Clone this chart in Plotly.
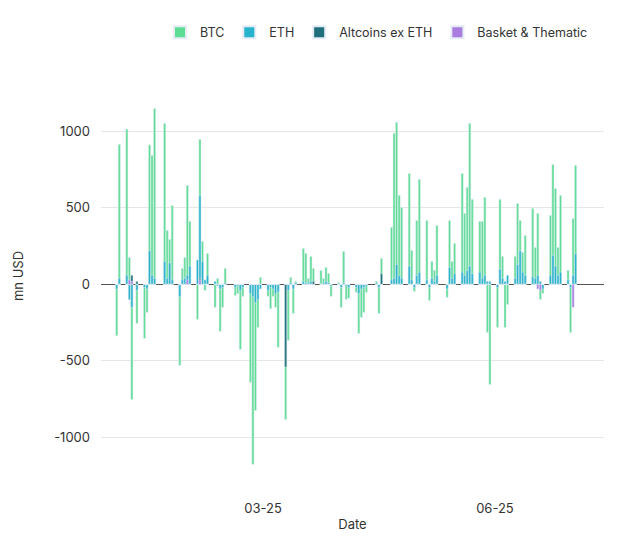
import plotly.graph_objects as go

dates = [
    "2025-01-02", "2025-01-03", "2025-01-06", "2025-01-07", "2025-01-08", "2025-01-10",
    "2025-01-13", "2025-01-14", "2025-01-15", "2025-01-16", "2025-01-17",
    "2025-01-21", "2025-01-22", "2025-01-23", "2025-01-24",
    "2025-01-27", "2025-01-28", "2025-01-29", "2025-01-30", "2025-01-31",
    "2025-02-03", "2025-02-04", "2025-02-05", "2025-02-06", "2025-02-07",
    "2025-02-10", "2025-02-11", "2025-02-12", "2025-02-13", "2025-02-14",
    "2025-02-18", "2025-02-19", "2025-02-20", "2025-02-21",
    "2025-02-24", "2025-02-25", "2025-02-26", "2025-02-27", "2025-02-28",
    "2025-03-03", "2025-03-04", "2025-03-05", "2025-03-06", "2025-03-07",
    "2025-03-10", "2025-03-11", "2025-03-12", "2025-03-13", "2025-03-14",
    "2025-03-17", "2025-03-18", "2025-03-19", "2025-03-20", "2025-03-21",
    "2025-03-24", "2025-03-25", "2025-03-26", "2025-03-27", "2025-03-28",
    "2025-03-31", "2025-04-01", "2025-04-02", "2025-04-03", "2025-04-04",
    "2025-04-07", "2025-04-08", "2025-04-09", "2025-04-10", "2025-04-11",
    "2025-04-15", "2025-04-16", "2025-04-17",
    "2025-04-21", "2025-04-22", "2025-04-23", "2025-04-24", "2025-04-25",
    "2025-04-28", "2025-04-29", "2025-04-30", "2025-05-01", "2025-05-02",
    "2025-05-05", "2025-05-06", "2025-05-07", "2025-05-08", "2025-05-09",
    "2025-05-13", "2025-05-14", "2025-05-15", "2025-05-16",
    "2025-05-19", "2025-05-20", "2025-05-21", "2025-05-22", "2025-05-23",
    "2025-05-26", "2025-05-27", "2025-05-28", "2025-05-29", "2025-05-30",
    "2025-06-02", "2025-06-03", "2025-06-04", "2025-06-05", "2025-06-06",
    "2025-06-09", "2025-06-10", "2025-06-11", "2025-06-12", "2025-06-13",
    "2025-06-16", "2025-06-17", "2025-06-18", "2025-06-19", "2025-06-20",
    "2025-06-23", "2025-06-24", "2025-06-25", "2025-06-26", "2025-06-27",
    "2025-06-30", "2025-07-01", "2025-07-02", "2025-07-03",
]

btc = [
    -335, 915, 1015, 176, -752, -255,
    -353, -183, 912, 843, 1150,
    1052, 353, 294, 516,
    -529, 105, 176, 647, 412,
    -229, 948, 281, -39, 203,
    -150, 39, -307, -150, 105,
    -72, -60, -425, -78,
    -640, -1176, -824, -281, 46,
    -78, -158, -78, -150, -411,
    -883, -366, 46, -190, 20,
    235, 203, 39, 183, 105,
    92, 39, 111, 72, -78,
    13, -150, 216, -98, -90,
    -52, -320, -216, -183, -52,
    20, -190, 170,
    373, 987, 1059, 582, 503,
    725, 222, -46, 418, 686,
    418, -105, 150, 92, 385,
    -85, 418, 150, 268,
    725, 464, 634, 1052, 556,
    412, 412, 569, -314, -654,
    -281, 556, 183, -281, -131,
    183, 529, 418, 209, 320,
    497, 242, 464, -98, -59,
    451, 784, 627, 242, 582,
    92, -314, 431, 778,
]

eth = [
    -30, 40, 60, -100, -150, -40,
    -20, -30, 220, 60, 40,
    150, 40, 140, 30,
    -80, 30, 40, 60, 120,
    160, 580, 150, 30, 60,
    20, -10, -30, -20, 10,
    -20, -10, -40, -20,
    -60, -80, -120, -100, -30,
    -40, -20, -30, -60, -50,
    -40, -40, 10, -30, 10,
    20, 10, 10, 20, 10,
    5, 10, 20, 10, -10,
    5, -20, 10, -10, -20,
    -20, -60, -30, -20, -10,
    10, -20, 30,
    30, 40, 130, 60, 40,
    120, 30, -20, 60, 80,
    30, -20, 40, 20, 60,
    -30, 110, 40, 70,
    80, 60, 90, 120, 70,
    80, 40, 60, 20, 20,
    -20, 100, 40, 20, 60,
    40, 130, 220, 80, 60,
    50, 40, 60, 20, -30,
    60, 190, 120, 60, 80,
    30, -20, 60, 200,
]

alt = [0] * len(dates)
alt[4] = 60
alt[5] = 20
alt[21] = 40
alt[44] = -540
alt[53] = 20
alt[71] = 70

basket = [0] * len(dates)
basket[3] = 30
basket[4] = 20
basket[18] = 30
basket[21] = 30
basket[113] = -30
basket[114] = -40
basket[123] = -150

y_ticks = [-1000, -500, 0, 500, 1000]
y_labels = ["-1000", "-500", "0", "500", "1000"]

fig = go.Figure()
fig.add_trace(go.Bar(name="BTC", x=dates, y=btc, marker_color="#5fdd95"))
fig.add_trace(go.Bar(name="ETH", x=dates, y=eth, marker_color="#27b3cc"))
fig.add_trace(go.Bar(name="Altcoins ex ETH", x=dates, y=alt, marker_color="#1f6f7c"))
fig.add_trace(go.Bar(name="Basket & Thematic", x=dates, y=basket, marker_color="#a97ce0"))

fig.update_layout(
    width=621, height=549,
    barmode="overlay",
    bargap=0.15,
    plot_bgcolor="white",
    paper_bgcolor="white",
    font=dict(family="Inter, sans-serif", size=13, color="#333"),
    margin=dict(l=93, r=25, t=53, b=66),
    legend=dict(orientation="h", xref="container", yref="container",
                x=0.942, xanchor="right", y=0.955, yanchor="middle",
                font=dict(size=12.5), itemsizing="constant"),
    xaxis=dict(
        title=dict(text="Date", font=dict(size=13), standoff=4),
        type="date",
        automargin=False,
        range=["2024-12-26 18:00", "2025-07-14 06:00"],
        tick0="2025-03-01", dtick="M3", tickformat="%m-%y",
        ticklabelstandoff=8,
        showgrid=False, zeroline=False, ticks="",
    ),
    yaxis=dict(
        title=dict(text="mn USD", font=dict(size=13), standoff=27),
        automargin=False,
        range=[-1350, 1460],
        tickvals=y_ticks, ticktext=y_labels,
        ticklabelstandoff=10,
        gridcolor="#e6e6e6",
        zeroline=True, zerolinecolor="#555", zerolinewidth=1,
    ),
)

fig.write_html("out.html")
